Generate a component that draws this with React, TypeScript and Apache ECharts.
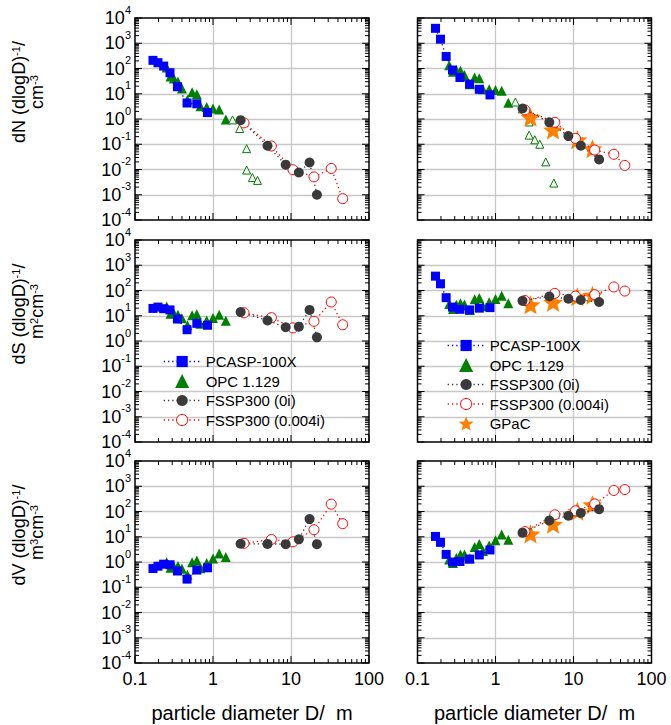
import React, { useEffect, useRef } from 'react';
import * as echarts from 'echarts';

// ---- particle diameters (µm) per instrument ----
const pcaspD = [0.17, 0.197, 0.233, 0.281, 0.35, 0.465, 0.62, 0.85];
const opcD = [0.255, 0.285, 0.315, 0.355, 0.4, 0.47, 0.54, 0.62, 0.69, 0.83, 1.0, 1.2, 1.46];
const opcOpenD_L = [1.78, 2.2, 2.7, 2.7, 3.2, 3.72];
const opcOpenD_R = [1.8, 2.22, 2.7, 2.7, 3.19, 3.7, 4.41, 5.6];
const fssp0iD_L = [2.26, 5.0, 8.55, 12.6, 17.3, 21.5];
const fssp004iD_L = [2.5, 5.6, 10.6, 19.7, 32.8, 46];
const fssp0iD_R = [2.22, 4.9, 8.6, 12.4, 21.3];
const fssp004iD_R = [2.38, 5.76, 10.6, 18.7, 32.9, 45.5];
const gpacD = [2.81, 5.47, 11.2, 17.5];

// ---- left column ----
const dN_L_pcasp = [210, 170, 125, 68, 19, 4.3, 4.0, 1.8];
const dN_L_opc = [110, 48, 40, 30, 16, 5.8, 11.5, 9.5, 3.2, 3.0, 2.6, 2.4, 0.95];
const dN_L_opcOpen = [0.92, 0.42, 0.067, 0.0095, 0.0048, 0.0037];
const dN_L_f0 = [0.9, 0.087, 0.0155, 0.0076, 0.019, 0.001];
const dN_L_f4 = [0.7, 0.085, 0.0098, 0.0051, 0.011, 0.0007];

const dS_L_pcasp = [19.5, 22, 19, 17, 7.4, 2.8, 5.0, 4.2];
const dS_L_opc = [23, 12, 12.5, 11, 8, 4.2, 10.5, 11.5, 4.8, 6.5, 8.2, 11, 6.4];
const dS_L_f0 = [14, 6.5, 3.5, 3.7, 17, 1.4];
const dS_L_f4 = [13, 8.4, 3.3, 6.0, 35, 4.4];

const dV_L_pcasp = [0.55, 0.68, 0.82, 0.78, 0.44, 0.21, 0.48, 0.59];
const dV_L_opc = [0.97, 0.59, 0.66, 0.7, 0.54, 0.31, 0.97, 1.15, 0.57, 0.92, 1.38, 2.15, 1.57];
const dV_L_f0 = [5.3, 5.2, 5.1, 7.9, 50, 5.1];
const dV_L_f4 = [5.5, 7.8, 6.3, 19, 195, 33];

// ---- right column ----
const dN_R_pcasp = [3900, 1450, 300, 87, 44, 24, 15, 9];
const dN_R_opc = [136, 74, 87, 81, 55, 24, 44, 41, 15, 15, 14, 13, 4.4];
const dN_R_opcOpen = [4.7, 2.5, 0.76, 0.23, 0.15, 0.1, 0.02, 0.0029];
const dN_R_f0 = [2.6, 0.74, 0.21, 0.088, 0.025];
const dN_R_f4 = [2.3, 0.74, 0.17, 0.059, 0.04, 0.0145];
const dN_R_gpac = [1.17, 0.37, 0.15, 0.067];

const dS_R_pcasp = [370, 185, 52, 22, 18, 17, 20, 21];
const dS_R_opc = [29, 18.5, 27, 31, 28, 17, 45, 51, 24, 34, 46, 62, 31];
const dS_R_f0 = [39, 58, 47, 42, 35];
const dS_R_f4 = [40, 77, 60, 68, 138, 95];
const dS_R_gpac = [27, 34, 57, 65];

const dV_R_pcasp = [10.3, 6.0, 2.0, 1.0, 1.05, 1.3, 1.9, 3.0];
const dV_R_opc = [1.25, 0.92, 1.45, 2.0, 2.0, 1.4, 3.9, 5.2, 2.7, 4.5, 7.3, 12.2, 7.6];
const dV_R_f0 = [14.5, 44, 68, 88, 124];
const dV_R_f4 = [16, 74, 106, 200, 680, 740];
const dV_R_gpac = [13, 31.6, 103, 185];

const legendLeft = ['PCASP-100X', 'OPC 1.129', 'FSSP300 (0i)', 'FSSP300 (0.004i)'];
const legendRight = ['PCASP-100X', 'OPC 1.129', 'FSSP300 (0i)', 'FSSP300 (0.004i)', 'GPaC'];
const xAxisTitle = 'particle diameter D/  m';
const yTitles = [
  '{t|dN (dlogD)}{s|-1}{t|/}\n{t|cm}{s|-3}',
  '{t|dS (dlogD)}{s|-1}{t|/}\n{t| m}{s|2}{t|cm}{s|-3}',
  '{t|dV (dlogD)}{s|-1}{t|/}\n{t| m}{s|3}{t|cm}{s|-3}',
];

const FONT = "'Liberation Sans', Arial, sans-serif";
const BLUE = '#0000ff';
const GREEN = '#007f00';
const DARK = '#3a3a3a';
const RED = '#ff0000';
const ORANGE = '#ff8000';
const STAR =
  'path://M50,0 L62.93,32.2 L97.55,34.55 L70.92,56.8 L79.39,90.45 L50,72 L20.61,90.45 L29.08,56.8 L2.45,34.55 L37.07,32.2 Z';
const TRI = 'path://M0,10 L5,0 L10,10 Z';

const zip = (xs: number[], ys: number[]) => xs.map((x, i) => [x, ys[i]]);

type PanelData = {
  pcasp: number[]; opc: number[]; opcOpen?: number[]; f0: number[]; f4: number[]; gpac?: number[];
};

const panels: PanelData[] = [
  { pcasp: dN_L_pcasp, opc: dN_L_opc, opcOpen: dN_L_opcOpen, f0: dN_L_f0, f4: dN_L_f4 },
  { pcasp: dN_R_pcasp, opc: dN_R_opc, opcOpen: dN_R_opcOpen, f0: dN_R_f0, f4: dN_R_f4, gpac: dN_R_gpac },
  { pcasp: dS_L_pcasp, opc: dS_L_opc, f0: dS_L_f0, f4: dS_L_f4 },
  { pcasp: dS_R_pcasp, opc: dS_R_opc, f0: dS_R_f0, f4: dS_R_f4, gpac: dS_R_gpac },
  { pcasp: dV_L_pcasp, opc: dV_L_opc, f0: dV_L_f0, f4: dV_L_f4 },
  { pcasp: dV_R_pcasp, opc: dV_R_opc, f0: dV_R_f0, f4: dV_R_f4, gpac: dV_R_gpac },
];

const colLeft = [135, 417.5];
const rowTop = [18, 240, 461];
const GW = 234;
const GH = 202;

// tick-mark positions (axis decoration)
function buildTicks() {
  const out: number[][] = [];
  for (let k = -4; k <= 4; k++) {
    for (let m = 1; m <= 9; m++) {
      if (k === 4 && m > 1) break;
      out.push([1, m * Math.pow(10, k), m === 1 ? 1 : 0, 0]);
    }
  }
  for (let k = -1; k <= 2; k++) {
    for (let m = 1; m <= 9; m++) {
      if (k === 2 && m > 1) break;
      out.push([m * Math.pow(10, k), 1, m === 1 ? 1 : 0, 1]);
    }
  }
  out.push([1, 1, 0, 2]);
  return out;
}

function renderTicks(params: any, api: any) {
  const cs = params.coordSys;
  const kind = api.value(3);
  const major = api.value(2) === 1;
  const len = major ? 7 : 4;
  const style = { stroke: '#000', lineWidth: 1 };
  if (kind === 2) {
    return {
      type: 'rect',
      shape: { x: cs.x, y: cs.y, width: cs.width, height: cs.height },
      style: { fill: 'none', stroke: '#000', lineWidth: 1.5 },
    };
  }
  if (kind === 0) {
    const y = api.coord([1, api.value(1)])[1];
    return {
      type: 'group',
      children: [
        { type: 'line', shape: { x1: cs.x, y1: y, x2: cs.x + len, y2: y }, style },
        { type: 'line', shape: { x1: cs.x + cs.width - len, y1: y, x2: cs.x + cs.width, y2: y }, style },
      ],
    };
  }
  const x = api.coord([api.value(0), 1])[0];
  const yb = cs.y + cs.height;
  return {
    type: 'group',
    children: [
      { type: 'line', shape: { x1: x, y1: yb, x2: x, y2: yb - len }, style },
      { type: 'line', shape: { x1: x, y1: cs.y, x2: x, y2: cs.y + len }, style },
    ],
  };
}

function buildOption() {
  const grid: any[] = [];
  const xAxis: any[] = [];
  const yAxis: any[] = [];
  const series: any[] = [];
  const ticks = buildTicks();

  panels.forEach((p, i) => {
    const row = Math.floor(i / 2);
    const col = i % 2;
    grid.push({
      left: colLeft[col], top: rowTop[row], width: GW, height: GH,
      show: false,
    });
    xAxis.push({
      type: 'log', logBase: 10, gridIndex: i, min: 0.1, max: 100,
      axisLine: { show: false }, axisTick: { show: false },
      splitLine: { show: true, showMinLine: false, showMaxLine: false, lineStyle: { color: '#c8c8c8', width: 1.3 } },
      axisLabel: {
        show: row === 2, margin: 7, fontSize: 18, fontFamily: FONT, color: '#000',
        formatter: (v: number) => (v >= 1 ? String(Math.round(v)) : String(Number(v.toPrecision(2)))),
      },
      name: row === 2 ? xAxisTitle : '',
      nameLocation: 'middle', nameGap: 40,
      nameTextStyle: { fontSize: 20, fontFamily: FONT, color: '#000' },
    });
    yAxis.push({
      type: 'log', logBase: 10, gridIndex: i, min: 1e-4, max: 1e4,
      axisLine: { show: false }, axisTick: { show: false },
      splitLine: { show: true, showMinLine: false, showMaxLine: false, lineStyle: { color: '#c8c8c8', width: 1.3 } },
      axisLabel: {
        show: col === 0, margin: 4,
        formatter: (v: number) => `{b|10}{s|${Math.round(Math.log10(v))}}`,
        rich: {
          b: { fontSize: 18, fontFamily: FONT, color: '#000', lineHeight: 28 },
          s: { fontSize: 11, fontFamily: FONT, color: '#000', lineHeight: 12, verticalAlign: 'top' },
        },
      },
    });

    const f0D = col === 0 ? fssp0iD_L : fssp0iD_R;
    const f4D = col === 0 ? fssp004iD_L : fssp004iD_R;
    const openD = col === 0 ? opcOpenD_L : opcOpenD_R;
    const common = { xAxisIndex: i, yAxisIndex: i, silent: true };

    series.push({
      ...common, type: 'custom', name: 'ticks' + i, data: ticks,
      renderItem: renderTicks, encode: { x: 0, y: 1 }, clip: false, z: 5,
    });
    series.push({
      ...common, type: 'line', name: 'FSSP300 (0.004i)', data: zip(f4D, p.f4),
      symbol: 'circle', symbolSize: 10,
      itemStyle: { color: '#fff', borderColor: RED, borderWidth: 1, opacity: 1 },
      lineStyle: { color: RED, width: 1.3, type: [1.3, 3] },
    });
    series.push({
      ...common, type: 'line', name: 'FSSP300 (0i)', data: zip(f0D, p.f0),
      symbol: 'circle', symbolSize: 10,
      itemStyle: { color: DARK, opacity: 1 },
      lineStyle: { color: DARK, width: 1.3, type: [1.3, 3] },
    });
    series.push({
      ...common, type: 'line', name: 'PCASP-100X', data: zip(pcaspD, p.pcasp),
      symbol: 'rect', symbolSize: 9,
      itemStyle: { color: BLUE, opacity: 1 },
      lineStyle: { color: BLUE, width: 1.3, type: [1.3, 3] },
    });
    series.push({
      ...common, type: 'scatter', name: 'OPC 1.129', data: zip(opcD, p.opc),
      symbol: 'triangle', symbolSize: 10,
      itemStyle: { color: GREEN, opacity: 1 },
    });
    if (p.opcOpen) {
      series.push({
        ...common, type: 'scatter', name: 'OPC open', data: zip(openD, p.opcOpen),
        symbol: 'triangle', symbolSize: 8,
        itemStyle: { color: '#fff', borderColor: GREEN, borderWidth: 1, opacity: 1 },
      });
    }
    if (p.gpac) {
      series.push({
        ...common, type: 'scatter', name: 'GPaC', data: zip(gpacD, p.gpac),
        symbol: STAR, symbolSize: 20, symbolKeepAspect: true,
        itemStyle: { color: ORANGE, opacity: 1 },
      });
    }
  });

  const legendCommon = {
    orient: 'vertical', itemWidth: 37, itemHeight: 14, itemGap: 4.5, padding: 0,
    selectedMode: false, symbolKeepAspect: true,
    textStyle: { fontSize: 15, fontFamily: FONT, color: '#000' },
    itemStyle: { borderWidth: 1, opacity: 1 }, lineStyle: { width: 1.3 },
  };

  const titleRich = {
    t: { fontSize: 18, fontFamily: FONT, fill: '#000', lineHeight: 18 },
    s: { fontSize: 11, fontFamily: FONT, fill: '#000', lineHeight: 11, verticalAlign: 'top' },
  };
  const titleY = [92, 314, 535];

  const legendItems = (names: string[]) =>
    names.map((n) => {
      if (n === 'OPC 1.129') return { name: n, icon: TRI };
      if (n === 'GPaC') return { name: n, icon: STAR };
      return { name: n };
    });

  return {
    animation: false,
    backgroundColor: '#fff',
    grid, xAxis, yAxis, series,
    legend: [
      { ...legendCommon, data: legendItems(legendLeft), left: 163, top: 354 },
      { ...legendCommon, data: legendItems(legendRight), left: 447, top: 338 },
    ],
    graphic: yTitles.map((t, r) => ({
      type: 'text', x: 28, y: titleY[r], rotation: Math.PI / 2,
      style: { text: t, rich: titleRich, align: 'center', verticalAlign: 'middle', fill: '#000' },
    })),
  };
}

export default function App() {
  const ref = useRef<HTMLDivElement>(null);
  useEffect(() => {
    if (!ref.current) return;
    const chart = echarts.init(ref.current, undefined, { renderer: 'svg' });
    chart.setOption(buildOption() as any);
    return () => chart.dispose();
  }, []);
  return (
    <div
      ref={ref}
      style={{ position: 'absolute', left: 0, top: 0, width: 671, height: 725, background: '#fff' }}
    />
  );
}
